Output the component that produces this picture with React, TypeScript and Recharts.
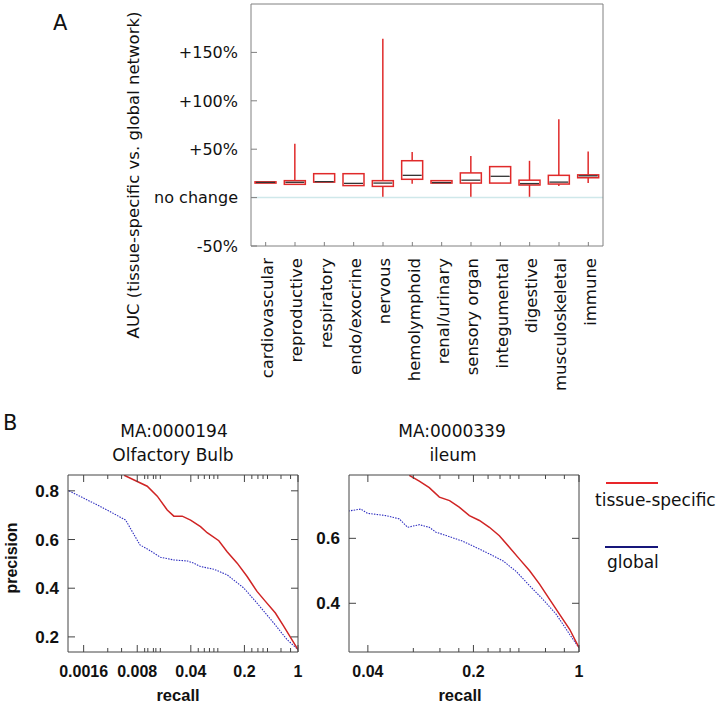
import React from 'react';
import { ComposedChart, Bar, XAxis, YAxis, ReferenceLine, LineChart, Line } from 'recharts';

// panel A: AUC change per organ system (percent)
const systems = [
  'cardiovascular', 'reproductive', 'respiratory', 'endo/exocrine', 'nervous', 'hemolymphoid',
  'renal/urinary', 'sensory organ', 'integumental', 'digestive', 'musculoskeletal', 'immune',
];
const whiskerLow = [15, 13.7, 16, 12.4, 0, 14.4, 15, 0, 15, 0, 12, 15];
const quart1 = [15, 13.7, 16, 12.4, 11.6, 18.9, 15, 15, 15, 13, 14, 20.5];
const medians = [15.7, 15.8, 16.5, 14.7, 15, 23, 15.5, 18, 22, 14.5, 16, 22.5];
const quart3 = [16.3, 17.5, 24.7, 24.7, 17.5, 38.1, 17.5, 25.5, 32, 18, 23, 23.5];
const whiskerHigh = [16.3, 55.7, 24.7, 24.7, 164, 47, 17.5, 43, 32, 38, 81, 47.5];
const aTicks = [-50, 0, 50, 100, 150];
const aTickLabels = ['-50%', 'no change', '+50%', '+100%', '+150%'];

// panel B left: MA:0000194 Olfactory Bulb
const olfRecallTissue = [0.0054, 0.0108, 0.0146, 0.0197, 0.024, 0.0309, 0.0397, 0.0535, 0.0653, 0.0927, 0.119, 0.161, 0.217, 0.292, 0.376, 0.507, 0.65, 1];
const olfPrecTissue = [0.864, 0.819, 0.778, 0.721, 0.696, 0.696, 0.68, 0.653, 0.628, 0.595, 0.55, 0.503, 0.448, 0.387, 0.346, 0.298, 0.244, 0.148];
const olfRecallGlobal = [0.00103, 0.00267, 0.00565, 0.0069, 0.00868, 0.0114, 0.0161, 0.024, 0.0359, 0.0438, 0.0535, 0.0798, 0.119, 0.196, 0.292, 0.482, 0.719, 1];
const olfPrecGlobal = [0.8, 0.735, 0.68, 0.632, 0.578, 0.557, 0.527, 0.516, 0.512, 0.503, 0.489, 0.478, 0.455, 0.401, 0.339, 0.257, 0.189, 0.148];
const olfMajor = [0.0016, 0.008, 0.04, 0.2, 1];
const olfMinor = [0.0033, 0.005, 0.01, 0.011, 0.013, 0.014, 0.016, 0.05, 0.06, 0.07, 0.08, 0.09, 0.25, 0.3, 0.35, 0.4, 0.6, 0.8];

// panel B right: MA:0000339 ileum
const ileRecallTissue = [0.0752, 0.0876, 0.102, 0.119, 0.139, 0.161, 0.188, 0.219, 0.255, 0.297, 0.347, 0.404, 0.471, 0.548, 0.639, 0.744, 0.867, 1];
const ilePrecTissue = [0.794, 0.776, 0.756, 0.727, 0.716, 0.696, 0.67, 0.655, 0.634, 0.608, 0.572, 0.536, 0.5, 0.459, 0.412, 0.366, 0.32, 0.263];
const ileRecallGlobal = [0.0297, 0.0359, 0.0398, 0.0526, 0.0645, 0.0733, 0.0876, 0.102, 0.113, 0.139, 0.17, 0.208, 0.255, 0.313, 0.384, 0.471, 0.577, 0.707, 0.867, 1];
const ilePrecGlobal = [0.684, 0.69, 0.677, 0.67, 0.66, 0.634, 0.642, 0.634, 0.619, 0.605, 0.591, 0.572, 0.552, 0.531, 0.498, 0.454, 0.412, 0.366, 0.304, 0.263];
const ileMajor = [0.04, 0.2, 1];
const ileMinor = [0.08, 0.12, 0.16, 0.25, 0.3, 0.35, 0.4, 0.6, 0.8];

const RED = '#e02a2a';
const LINE_RED = '#d02424';
const LINE_BLUE = '#3030c0';
const FRAME = '#808080';
const DV = '"DejaVu Sans", Verdana, sans-serif';
const LS = '"Liberation Sans", Arial, sans-serif';
const LSN = '"Liberation Sans Narrow", "Liberation Sans", Arial, sans-serif';

const boxData = systems.map((name, i) => ({
  name,
  min: whiskerLow[i],
  q1: quart1[i],
  med: medians[i],
  q3: quart3[i],
  max: whiskerHigh[i],
}));

const zip = (rs: number[], ps: number[]) => rs.map((r, i) => ({ r, p: ps[i] }));

function BoxShape(props: any) {
  const { x, y, width, height, payload } = props;
  const top = Math.min(y, y + height);
  const k = Math.abs(height) / (payload.max - payload.min);
  const py = (v: number) => top + (payload.max - v) * k;
  const cx = x + width / 2;
  return (
    <g>
      <line x1={cx} x2={cx} y1={py(payload.max)} y2={py(payload.q3)} stroke={RED} strokeWidth={1.5} />
      <line x1={cx} x2={cx} y1={py(payload.q1)} y2={py(payload.min)} stroke={RED} strokeWidth={1.5} />
      <rect x={x} y={py(payload.q3)} width={width} height={Math.max(py(payload.q1) - py(payload.q3), 1)}
        fill="#fff" stroke={RED} strokeWidth={1.5} />
      <line x1={x + 1} x2={x + width - 1} y1={py(payload.med)} y2={py(payload.med)} stroke="#333" strokeWidth={1.3} />
    </g>
  );
}

const aLeftTick = (props: any) => {
  const { x, y, payload } = props;
  const idx = aTicks.indexOf(payload.value);
  return (
    <g>
      <line x1={x} x2={x + 6} y1={y} y2={y} stroke={FRAME} />
      <text x={x - 13} y={y} dy="0.36em" textAnchor="end" fontFamily={DV} fontSize={16} fill="#111">
        {aTickLabels[idx]}
      </text>
    </g>
  );
};

const aRightTick = (props: any) => {
  const { x, y } = props;
  return <line x1={x} x2={x - 6} y1={y} y2={y} stroke={FRAME} />;
};

const aBottomTick = (props: any) => {
  const { x, y, payload } = props;
  return (
    <g>
      <line x1={x} x2={x} y1={y} y2={y - 4} stroke={FRAME} />
      <text x={x} y={y + 12} dy="0.45em" textAnchor="end" transform={`rotate(-90 ${x} ${y + 12})`}
        fontFamily={DV} fontSize={16.5} fill="#111">
        {payload.value}
      </text>
    </g>
  );
};

const fmtRecall = (v: number) => String(v);

const makeXTick = (majors: number[], dir: number, labels: boolean) => (props: any) => {
  const { x, y, payload } = props;
  const major = majors.includes(payload.value);
  const len = major ? 7 : 4;
  return (
    <g>
      <line x1={x} x2={x} y1={y} y2={y - dir * len} stroke="#444" />
      {labels && major && (
        <text x={x} y={y + 25} textAnchor="middle" fontFamily={LS} fontWeight="bold" fontSize={16} fill="#111">
          {fmtRecall(payload.value)}
        </text>
      )}
    </g>
  );
};

const makeYTick = (dir: number, labels: boolean) => (props: any) => {
  const { x, y, payload } = props;
  return (
    <g>
      <line x1={x} x2={x + dir * 7} y1={y} y2={y} stroke="#444" />
      {labels && (
        <text x={x - 9} y={y} dy="0.36em" textAnchor="end" fontFamily={LS} fontWeight="bold" fontSize={17} fill="#111">
          {payload.value.toFixed(1)}
        </text>
      )}
    </g>
  );
};

function PRPanel(props: {
  left: number; width: number; yAxisW: number; marginL: number; marginR: number;
  xDomain: number[]; yDomain: number[]; yTicks: number[]; majors: number[]; minors: number[];
  tissue: { r: number; p: number }[]; global: { r: number; p: number }[];
}) {
  const xTicks = [...props.majors, ...props.minors].sort((a, b) => a - b);
  return (
    <div style={{ position: 'absolute', left: props.left, top: 400 }}>
      <LineChart width={props.width} height={307}
        margin={{ top: 74, right: props.marginR, bottom: 25, left: props.marginL }}>
        <XAxis type="number" dataKey="r" scale="log" domain={props.xDomain} allowDataOverflow
          ticks={xTicks} interval={0} tick={makeXTick(props.majors, 1, true)} tickLine={false}
          tickSize={0} tickMargin={0} axisLine={{ stroke: '#444' }} height={30} />
        <XAxis xAxisId="top" orientation="top" type="number" dataKey="r" scale="log" domain={props.xDomain}
          allowDataOverflow ticks={xTicks} interval={0} tick={makeXTick(props.majors, -1, false)} tickLine={false}
          tickSize={0} tickMargin={0} axisLine={{ stroke: '#444' }} height={1} />
        <YAxis type="number" domain={props.yDomain} allowDataOverflow ticks={props.yTicks} interval={0}
          tick={makeYTick(1, true)} tickLine={false} tickSize={0} tickMargin={0}
          axisLine={{ stroke: '#444' }} width={props.yAxisW} />
        <YAxis yAxisId="right" orientation="right" type="number" domain={props.yDomain} allowDataOverflow
          ticks={props.yTicks} interval={0} tick={makeYTick(-1, false)} tickLine={false} tickSize={0}
          tickMargin={0} axisLine={{ stroke: '#444' }} width={1} />
        <Line data={props.global} dataKey="p" type="linear" stroke={LINE_BLUE} strokeWidth={1.1}
          strokeDasharray="1.5 1.2" dot={false} isAnimationActive={false} />
        <Line data={props.tissue} dataKey="p" type="linear" stroke={LINE_RED} strokeWidth={1.5}
          dot={false} isAnimationActive={false} />
      </LineChart>
    </div>
  );
}

export default function App() {
  return (
    <div style={{ position: 'absolute', left: 0, top: 0, width: 724, height: 707, background: '#fff', overflow: 'hidden' }}>
      <div style={{ position: 'absolute', left: 0, top: 0 }}>
        <ComposedChart width={724} height={460} data={boxData}
          margin={{ top: 2, right: 111, bottom: 14, left: 171 }} barSize={21}>
          <XAxis dataKey="name" type="category" interval={0} tick={aBottomTick} tickLine={false}
            tickSize={0} tickMargin={0} axisLine={{ stroke: FRAME }} height={200} />
          <XAxis xAxisId="top" orientation="top" dataKey="name" type="category" tick={false} tickLine={false}
            axisLine={{ stroke: FRAME }} height={2} />
          <YAxis type="number" domain={[-50, 200]} ticks={aTicks} interval={0} tick={aLeftTick} tickLine={false}
            tickSize={0} tickMargin={0} axisLine={{ stroke: FRAME }} width={80} />
          <YAxis yAxisId="right" orientation="right" type="number" domain={[-50, 200]} ticks={aTicks} interval={0}
            tick={aRightTick} tickLine={false} tickSize={0} tickMargin={0} axisLine={{ stroke: FRAME }} width={10} />
          <ReferenceLine y={0} stroke="#cfe8ea" strokeWidth={1.5} />
          <Bar dataKey={(d: any) => [d.min, d.max]} shape={BoxShape} isAnimationActive={false} />
        </ComposedChart>
      </div>

      <PRPanel left={0} width={320} yAxisW={60} marginL={8} marginR={21}
        xDomain={[0.001, 1]} yDomain={[0.138, 0.865]} yTicks={[0.2, 0.4, 0.6, 0.8]}
        majors={olfMajor} minors={olfMinor}
        tissue={zip(olfRecallTissue, olfPrecTissue)} global={zip(olfRecallGlobal, olfPrecGlobal)} />
      <PRPanel left={290} width={300} yAxisW={50} marginL={9} marginR={10}
        xDomain={[0.03, 1]} yDomain={[0.25, 0.795]} yTicks={[0.4, 0.6]}
        majors={ileMajor} minors={ileMinor}
        tissue={zip(ileRecallTissue, ilePrecTissue)} global={zip(ileRecallGlobal, ilePrecGlobal)} />

      <svg width={724} height={707} style={{ position: 'absolute', left: 0, top: 0, pointerEvents: 'none' }}>
        <text x={53} y={30} fontFamily={DV} fontSize={21} fill="#111">A</text>
        <text x={139} y={175} textAnchor="middle" transform="rotate(-90 139 175)" fontFamily={DV} fontSize={16.5} fill="#111">
          AUC (tissue-specific vs. global network)
        </text>
        <text x={3} y={430} fontFamily={DV} fontSize={21} fill="#111">B</text>
        <text x={174} y={437} textAnchor="middle" fontFamily={DV} fontSize={17} fill="#111">MA:0000194</text>
        <text x={173} y={461} textAnchor="middle" fontFamily={DV} fontSize={17} fill="#111">Olfactory Bulb</text>
        <text x={452} y={437} textAnchor="middle" fontFamily={DV} fontSize={17} fill="#111">MA:0000339</text>
        <text x={453} y={461} textAnchor="middle" fontFamily={DV} fontSize={17} fill="#111">ileum</text>
        <text x={17} y={558} textAnchor="middle" transform="rotate(-90 17 558)" fontFamily={LS} fontWeight="bold" fontSize={16} fill="#111">
          precision
        </text>
        <text x={178} y={701} textAnchor="middle" fontFamily={LSN} fontWeight="bold" fontSize={16.5} fill="#111">recall</text>
        <text x={460} y={701} textAnchor="middle" fontFamily={LSN} fontWeight="bold" fontSize={16.5} fill="#111">recall</text>
        <line x1={606} x2={658} y1={483} y2={483} stroke="#e8262a" strokeWidth={2} />
        <text x={595} y={506} fontFamily={DV} fontSize={17} fill="#111">tissue-specific</text>
        <line x1={605} x2={658} y1={547} y2={547} stroke="#16167a" strokeWidth={2} />
        <text x={607} y={568} fontFamily={DV} fontSize={17} fill="#111">global</text>
      </svg>
    </div>
  );
}
